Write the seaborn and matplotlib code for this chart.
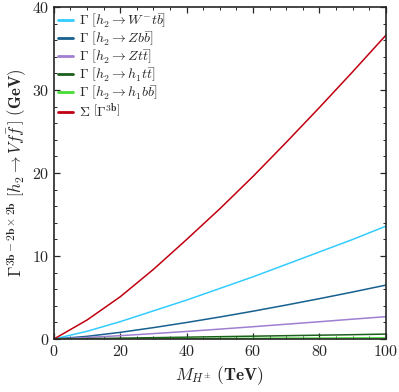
import numpy as np
import pandas as pd
import matplotlib
matplotlib.use("Agg")
import matplotlib.pyplot as plt
from matplotlib.ticker import MultipleLocator
import seaborn as sns

# masses (TeV) and widths (GeV)
m_hpm = [0, 10, 20, 30, 40, 50, 60, 70, 80, 90, 100]
w_Wtb = [0, 0.94, 2.1, 3.4, 4.7, 6.1, 7.5, 9.0, 10.5, 12.0, 13.6]
w_Zbb = [0, 0.33, 0.81, 1.38, 2.0, 2.66, 3.36, 4.1, 4.87, 5.67, 6.5]
w_Ztt = [0, 0.19, 0.41, 0.66, 0.92, 1.2, 1.49, 1.79, 2.09, 2.4, 2.7]
w_h1tt = [0, 0.05, 0.11, 0.17, 0.23, 0.29, 0.35, 0.41, 0.47, 0.53, 0.6]
w_h1bb = [0, 0.01, 0.03, 0.04, 0.06, 0.08, 0.09, 0.11, 0.12, 0.14, 0.15]
w_sum = [0, 2.3, 5.1, 8.4, 12.0, 15.7, 19.6, 23.7, 27.9, 32.2, 36.6]

labels = [
    r'$\mathbf{\Gamma}\ \left[h_2 \rightarrow W^{-}t\bar{b}\right]$',
    r'$\mathbf{\Gamma}\ \left[h_2 \rightarrow Zb\bar{b}\right]$',
    r'$\mathbf{\Gamma}\ \left[h_2 \rightarrow Zt\bar{t}\right]$',
    r'$\mathbf{\Gamma}\ \left[h_2 \rightarrow h_1 t\bar{t}\right]$',
    r'$\mathbf{\Gamma}\ \left[h_2 \rightarrow h_1 b\bar{b}\right]$',
    r'$\mathbf{\Sigma}\ \left[\Gamma^{\mathbf{3b}}\right]$',
]
colors = ['#33ccff', '#17608f', '#a07fd0', '#1c5e1c', '#44dd33', '#c00010']

series = [w_Wtb, w_Zbb, w_Ztt, w_h1tt, w_h1bb, w_sum]
df = pd.concat([pd.DataFrame({'M': m_hpm, 'G': s, 'ch': lab})
                for s, lab in zip(series, labels)], ignore_index=True)

sns.set_style('ticks')
plt.rcParams['font.family'] = ['cmr10', 'DejaVu Serif']
plt.rcParams['mathtext.fontset'] = 'cm'
plt.rcParams['axes.formatter.use_mathtext'] = True

fig = plt.figure(figsize=(3.99, 3.92), dpi=100)
ax = fig.add_axes([0.135, 0.135, 0.832, 0.847])

sns.lineplot(data=df, x='M', y='G', hue='ch', palette=colors, hue_order=labels,
             linewidth=1.1, ax=ax)

ax.set_xlim(0, 100)
ax.set_ylim(0, 40)
ax.xaxis.set_major_locator(MultipleLocator(20))
ax.xaxis.set_minor_locator(MultipleLocator(5))
ax.yaxis.set_major_locator(MultipleLocator(10))
ax.yaxis.set_minor_locator(MultipleLocator(2))
ax.tick_params(which='both', direction='in', top=True, right=True, labelsize=11.5)
ax.tick_params(which='major', length=4, width=0.9)
ax.tick_params(which='minor', length=2, width=0.7)
for sp in ax.spines.values():
    sp.set_linewidth(1.2)

ax.set_xlabel(r'$M_{H^{\pm}}\ \mathbf{(TeV)}$', fontsize=12.5)
ax.set_ylabel(r'$\mathbf{\Gamma}^{\mathbf{3b-2b\times 2b}}\ \left[h_2 \rightarrow Vf\bar{f}\,\right]\ \mathbf{(GeV)}$',
              fontsize=12, labelpad=2)

leg = ax.legend(loc='upper left', frameon=False, fontsize=10, handlelength=1.1,
                handletextpad=0.4, labelspacing=0.0, borderaxespad=0.1,
                borderpad=0.2)
for line in leg.get_lines():
    line.set_linewidth(2)

fig.savefig('out.png', dpi=100)
